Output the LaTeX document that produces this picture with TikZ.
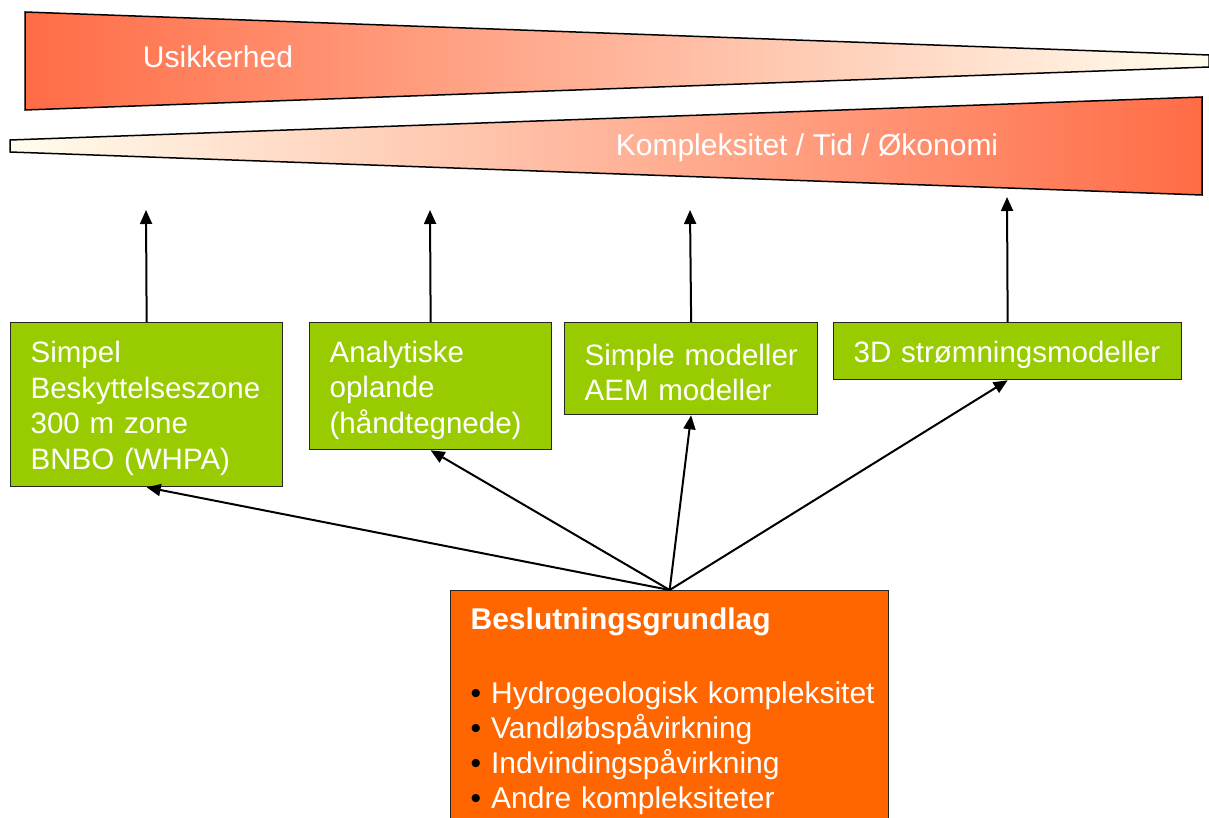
\documentclass[tikz,border=0pt]{standalone}
\usepackage{fontspec}
\setmainfont{Liberation Sans}
\usetikzlibrary{arrows.meta}
\definecolor{wedgered}{RGB}{255,108,70}
\definecolor{wedgecream}{RGB}{255,253,238}
\definecolor{boxgreen}{RGB}{153,204,0}
\definecolor{boxorange}{RGB}{255,102,0}

\begin{document}
\begin{tikzpicture}[x=1pt,y=-1pt,>={Triangle[length=14pt,width=12pt]}]
    \tikzstyle{wedge}=[draw=black,line width=1.5pt]
    \tikzstyle{model}=[draw=black!85,line width=1.3pt,fill=boxgreen,text=white,anchor=north west,align=left,inner xsep=20pt,inner ysep=0pt,text height=29pt,font=\fontsize{29.5}{35.5}\selectfont]
    \tikzstyle{link}=[->,line width=2pt]
    \useasboundingbox (0,0) rectangle (1209,818);
    % the two wedges
    \draw[wedge,left color=wedgered,right color=wedgecream] (25,12) -- (1209,55) -- (1209,67) -- (25,110) -- cycle;
    \draw[wedge,left color=wedgecream,right color=wedgered] (10,140) -- (1202,97) -- (1202,195) -- (10,152) -- cycle;
    \node[text=white,font=\fontsize{30}{35}\selectfont] (usik) at (218,57) {Usikkerhed};
    \node[text=white,font=\fontsize{30}{35}\selectfont] (komp) at (807,148) {Kompleksitet / Tid / Økonomi};
    % model boxes
    \node[model,text width=232pt,minimum height=164pt] (b_1) at (10,322) {Simpel\\Beskyttelseszone\\300 m zone\\BNBO (WHPA)};
    \node[model,text width=202pt,minimum height=127pt] (b_2) at (309,322) {Analytiske\\oplande\\(håndtegnede)};
    \node[model,text width=213pt,minimum height=92pt] (b_3) at (564,322) {\mbox{Simple modeller}\\\mbox{AEM modeller}};
    \node[model,text width=308pt,minimum height=57pt] (b_4) at (833,322) {3D strømningsmodeller};
    % decision box
    \node[draw=black!85,line width=1.3pt,fill=boxorange,text=white,anchor=north west,align=left,inner xsep=20pt,inner ysep=17pt,text width=398pt,font=\fontsize{30}{35}\selectfont] (grund) at (450,590)
      {\textbf{Beslutningsgrundlag}\\[39pt]
       \mbox{\textcolor{black}{\textbullet} Hydrogeologisk kompleksitet}\\
       \mbox{\textcolor{black}{\textbullet} Vandløbspåvirkning}\\
       \mbox{\textcolor{black}{\textbullet} Indvindingspåvirkning}\\
       \mbox{\textcolor{black}{\textbullet} Andre kompleksiteter}};
    % arrow ends under the wedges
    \coordinate (u_1) at (146,210);
    \coordinate (u_2) at (430,210);
    \coordinate (u_3) at (690,210);
    \coordinate (u_4) at (1007,197);
    \draw[link] (b_1.north) -- (u_1);
    \draw[link] (b_2.north) -- (u_2);
    \draw[link] (b_3.north) -- (u_3);
    \draw[link] (b_4.north) -- (u_4);
    \draw[link] (grund.north) -- (b_1.south);
    \draw[link] (grund.north) -- (b_2.south);
    \draw[link] (grund.north) -- (b_3.south);
    \draw[link] (grund.north) -- (b_4.south);
\end{tikzpicture}
\end{document}
